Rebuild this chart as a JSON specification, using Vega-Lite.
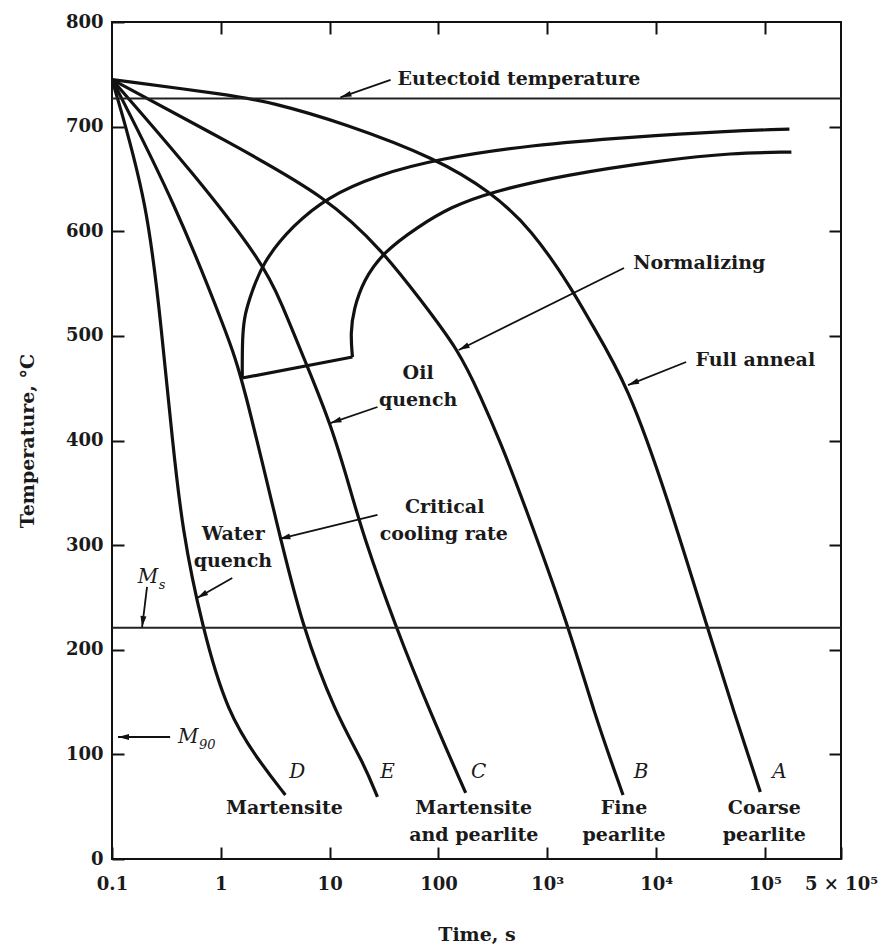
{
  "$schema": "https://vega.github.io/schema/vega-lite/v6.json",
  "width": 729,
  "height": 837,
  "autosize": {"type": "none"},
  "padding": {"left": 112, "top": 22, "right": 52, "bottom": 86},
  "background": "white",
  "config": {
    "font": "DejaVu Serif",
    "view": {"stroke": "#111", "strokeWidth": 2},
    "axis": {"labelFont": "DejaVu Serif", "titleFont": "DejaVu Serif", "labelColor": "#1a1a1a", "titleColor": "#1a1a1a", "tickColor": "#111", "grid": false, "domain": false}
  },
  "datasets": {
    "cooling": [
      {"curve": "A", "i": 0, "t": 0.1, "T": 745},
      {"curve": "A", "i": 1, "t": 1.221, "T": 730.2},
      {"curve": "A", "i": 2, "t": 2.85, "T": 723.5},
      {"curve": "A", "i": 3, "t": 13.4, "T": 703.5},
      {"curve": "A", "i": 4, "t": 98.3, "T": 669.1},
      {"curve": "A", "i": 5, "t": 302.5, "T": 637.5},
      {"curve": "A", "i": 6, "t": 706, "T": 603.1},
      {"curve": "A", "i": 7, "t": 1758, "T": 541.9},
      {"curve": "A", "i": 8, "t": 2416, "T": 515.2},
      {"curve": "A", "i": 9, "t": 5521, "T": 453},
      {"curve": "A", "i": 10, "t": 12890, "T": 343.1},
      {"curve": "A", "i": 11, "t": 29490, "T": 221.7},
      {"curve": "A", "i": 12, "t": 52240, "T": 139.5},
      {"curve": "A", "i": 13, "t": 90700, "T": 64},
      {"curve": "B", "i": 0, "t": 0.1, "T": 745},
      {"curve": "B", "i": 1, "t": 1.221, "T": 684.3},
      {"curve": "B", "i": 2, "t": 9.54, "T": 632.7},
      {"curve": "B", "i": 3, "t": 31.3, "T": 580.2},
      {"curve": "B", "i": 4, "t": 68.5, "T": 534.3},
      {"curve": "B", "i": 5, "t": 153.5, "T": 486.5},
      {"curve": "B", "i": 6, "t": 244.7, "T": 441.6},
      {"curve": "B", "i": 7, "t": 374, "T": 397.6},
      {"curve": "B", "i": 8, "t": 596, "T": 343.1},
      {"curve": "B", "i": 9, "t": 1581, "T": 221.7},
      {"curve": "B", "i": 10, "t": 2687, "T": 139.5},
      {"curve": "B", "i": 11, "t": 4966, "T": 61.2},
      {"curve": "C", "i": 0, "t": 0.1, "T": 745},
      {"curve": "C", "i": 1, "t": 0.58, "T": 653.8},
      {"curve": "C", "i": 2, "t": 2.405, "T": 570.6},
      {"curve": "C", "i": 3, "t": 3.52, "T": 534.3},
      {"curve": "C", "i": 4, "t": 6.25, "T": 470.3},
      {"curve": "C", "i": 5, "t": 10.17, "T": 416.7},
      {"curve": "C", "i": 6, "t": 15.54, "T": 352.7},
      {"curve": "C", "i": 7, "t": 20.05, "T": 311.6},
      {"curve": "C", "i": 8, "t": 40.4, "T": 221.7},
      {"curve": "C", "i": 9, "t": 84.7, "T": 139.5},
      {"curve": "C", "i": 10, "t": 177.9, "T": 63.1},
      {"curve": "E", "i": 0, "t": 0.1, "T": 745},
      {"curve": "E", "i": 1, "t": 0.38, "T": 627},
      {"curve": "E", "i": 2, "t": 1.17, "T": 498.9},
      {"curve": "E", "i": 3, "t": 1.574, "T": 459.7},
      {"curve": "E", "i": 4, "t": 3.377, "T": 314.5},
      {"curve": "E", "i": 5, "t": 5.62, "T": 221.7},
      {"curve": "E", "i": 6, "t": 11.3, "T": 139.5},
      {"curve": "E", "i": 7, "t": 20.5, "T": 91.8},
      {"curve": "E", "i": 8, "t": 27.5, "T": 59.3},
      {"curve": "D", "i": 0, "t": 0.1, "T": 745},
      {"curve": "D", "i": 1, "t": 0.2145, "T": 627},
      {"curve": "D", "i": 2, "t": 0.2886, "T": 498.9},
      {"curve": "D", "i": 3, "t": 0.3569, "T": 403.3},
      {"curve": "D", "i": 4, "t": 0.4413, "T": 314.5},
      {"curve": "D", "i": 5, "t": 0.674, "T": 221.7},
      {"curve": "D", "i": 6, "t": 1.145, "T": 139.5},
      {"curve": "D", "i": 7, "t": 2.306, "T": 91.8},
      {"curve": "D", "i": 8, "t": 3.92, "T": 61.2}
    ],
    "hold": [
      {"curve": "start", "i": 0, "t": 1.574, "T": 459.7},
      {"curve": "start", "i": 1, "t": 1.574, "T": 498.9},
      {"curve": "start", "i": 2, "t": 1.65, "T": 518},
      {"curve": "start", "i": 3, "t": 1.787, "T": 532},
      {"curve": "start", "i": 4, "t": 2.405, "T": 570.6},
      {"curve": "start", "i": 5, "t": 4.64, "T": 606},
      {"curve": "start", "i": 6, "t": 9.54, "T": 632.7},
      {"curve": "start", "i": 7, "t": 27.5, "T": 653.8},
      {"curve": "start", "i": 8, "t": 98.3, "T": 669.1},
      {"curve": "start", "i": 9, "t": 706, "T": 682.4},
      {"curve": "start", "i": 10, "t": 5888, "T": 690.1},
      {"curve": "start", "i": 11, "t": 49090, "T": 695.8},
      {"curve": "start", "i": 12, "t": 167800, "T": 697.7},
      {"curve": "finish", "i": 0, "t": 16.2, "T": 479.8},
      {"curve": "finish", "i": 1, "t": 15.54, "T": 502.7},
      {"curve": "finish", "i": 2, "t": 16.56, "T": 524.7},
      {"curve": "finish", "i": 3, "t": 20.5, "T": 553.4},
      {"curve": "finish", "i": 4, "t": 31.3, "T": 580.2},
      {"curve": "finish", "i": 5, "t": 64.3, "T": 604.1},
      {"curve": "finish", "i": 6, "t": 129.5, "T": 623.2},
      {"curve": "finish", "i": 7, "t": 302.5, "T": 637.5},
      {"curve": "finish", "i": 8, "t": 1422, "T": 653.8},
      {"curve": "finish", "i": 9, "t": 11850, "T": 668.1},
      {"curve": "finish", "i": 10, "t": 49090, "T": 674.8},
      {"curve": "finish", "i": 11, "t": 175000, "T": 675.7},
      {"curve": "stop", "i": 0, "t": 1.574, "T": 459.7},
      {"curve": "stop", "i": 1, "t": 16.2, "T": 479.8}
    ],
    "hlines": [
      {"name": "Eutectoid temperature", "T": 727},
      {"name": "Ms", "T": 221}
    ],
    "arrows": [
      {"a": "eut", "t1": 36.3, "T1": 744.6, "t2": 12.57, "T2": 728},
      {"a": "norm", "t1": 5070, "T1": 564.9, "t2": 153.5, "T2": 486.5},
      {"a": "full", "t1": 18880, "T1": 475, "t2": 5521, "T2": 453},
      {"a": "oil", "t1": 27.5, "T1": 432, "t2": 10.17, "T2": 416.7},
      {"a": "crit", "t1": 27.5, "T1": 328.8, "t2": 3.45, "T2": 305.9},
      {"a": "water", "t1": 1.274, "T1": 268.6, "t2": 0.606, "T2": 249.5},
      {"a": "ms", "t1": 0.21, "T1": 260, "t2": 0.189, "T2": 221.7},
      {"a": "m90", "t1": 0.342, "T1": 116.6, "t2": 0.1135, "T2": 116.6}
    ],
    "labels": [
      {"kind": "note", "text": "Normalizing", "t": 24900, "T": 569.7},
      {"kind": "note", "text": "Full anneal", "t": 81600, "T": 476.9},
      {"kind": "note", "text": "Oil", "t": 65, "T": 464.5},
      {"kind": "note", "text": "quench", "t": 65, "T": 438.7},
      {"kind": "note", "text": "Critical", "t": 114, "T": 336.4},
      {"kind": "note", "text": "cooling rate", "t": 112, "T": 310.6},
      {"kind": "note", "text": "Water", "t": 1.3, "T": 310.6},
      {"kind": "note", "text": "quench", "t": 1.29, "T": 284.8},
      {"kind": "note", "text": "Martensite", "t": 3.84, "T": 48.7},
      {"kind": "note", "text": "Martensite", "t": 211, "T": 48.7},
      {"kind": "note", "text": "and pearlite", "t": 211, "T": 22.9},
      {"kind": "note", "text": "Fine", "t": 5070, "T": 48.7},
      {"kind": "note", "text": "pearlite", "t": 5070, "T": 22.9},
      {"kind": "note", "text": "Coarse", "t": 98700, "T": 48.7},
      {"kind": "note", "text": "pearlite", "t": 98700, "T": 22.9},
      {"kind": "left", "text": "Eutectoid temperature", "t": 42.1, "T": 745.5},
      {"kind": "letter", "text": "D", "t": 5.05, "T": 83.2},
      {"kind": "letter", "text": "E", "t": 34.0, "T": 83.2},
      {"kind": "letter", "text": "C", "t": 234, "T": 83.2},
      {"kind": "letter", "text": "B", "t": 7280, "T": 83.2},
      {"kind": "letter", "text": "A", "t": 135800, "T": 83.2},
      {"kind": "M", "text": "M", "t": 0.2145, "T": 269.5},
      {"kind": "M", "text": "M", "t": 0.501, "T": 116.6},
      {"kind": "sub", "text": "s", "t": 0.288, "T": 261.9},
      {"kind": "sub", "text": "90", "t": 0.75, "T": 109}
    ]
  },
  "resolve": {"axis": {"x": "independent", "y": "independent"}},
  "layer": [
    {
      "data": {"name": "cooling"},
      "mark": {"type": "line", "interpolate": "basis", "strokeWidth": 3.2, "color": "#111", "clip": true},
      "encoding": {
        "x": {"field": "t", "type": "quantitative", "scale": {"type": "log", "domain": [0.1, 500000]},
          "axis": {"orient": "bottom", "values": [0.1, 1, 10, 100, 1000, 10000, 100000, 500000],
            "labelExpr": "datum.value < 0.5 ? '0.1' : datum.value < 5 ? '1' : datum.value < 50 ? '10' : datum.value < 500 ? '100' : datum.value < 5000 ? '10³' : datum.value < 50000 ? '10⁴' : datum.value < 200000 ? '10⁵' : '5 × 10⁵'",
            "tickSize": -12, "tickWidth": 2, "labelPadding": 28, "labelFontSize": 18, "labelFontWeight": "bold",
            "labelFlush": false, "labelOverlap": false, "labelBound": false,
            "title": "Time, s", "titleFontSize": 19, "titleFontWeight": "bold", "titlePadding": 32}},
        "y": {"field": "T", "type": "quantitative", "scale": {"domain": [0, 800]},
          "axis": {"orient": "left", "values": [0, 100, 200, 300, 400, 500, 600, 700, 800],
            "tickSize": -12, "tickWidth": 2, "labelPadding": 21, "labelFontSize": 18, "labelFontWeight": "bold",
            "labelFlush": false, "labelOverlap": false,
            "title": "Temperature, °C", "titleFontSize": 19, "titleFontWeight": "bold", "titlePadding": 28}},
        "detail": {"field": "curve"},
        "order": {"field": "i"}
      }
    },
    {
      "data": {"name": "hold"},
      "mark": {"type": "line", "interpolate": "basis", "strokeWidth": 3.2, "color": "#111", "clip": true},
      "encoding": {
        "x": {"field": "t", "type": "quantitative", "scale": {"type": "log", "domain": [0.1, 500000]}, "axis": null},
        "y": {"field": "T", "type": "quantitative", "scale": {"domain": [0, 800]}, "axis": null},
        "detail": {"field": "curve"},
        "order": {"field": "i"}
      }
    },
    {
      "data": {"name": "hlines"},
      "mark": {"type": "rule", "strokeWidth": 2, "color": "#222"},
      "encoding": {
        "y": {"field": "T", "type": "quantitative", "scale": {"domain": [0, 800]}, "axis": null}
      }
    },
    {
      "data": {"name": "arrows"},
      "mark": {"type": "rule", "strokeWidth": 1.8, "color": "#111"},
      "encoding": {
        "x": {"field": "t1", "type": "quantitative", "scale": {"type": "log", "domain": [0.1, 500000]},
          "axis": {"orient": "top", "values": [1, 10, 100, 1000, 10000, 100000], "labels": false, "tickSize": -12, "tickWidth": 2, "title": null}},
        "y": {"field": "T1", "type": "quantitative", "scale": {"domain": [0, 800]},
          "axis": {"orient": "right", "values": [100, 200, 300, 400, 500, 600, 700], "labels": false, "tickSize": -12, "tickWidth": 2, "title": null}},
        "x2": {"field": "t2"},
        "y2": {"field": "T2"}
      }
    },
    {
      "data": {"name": "arrows"},
      "transform": [{"filter": "datum.a == 'eut'"}],
      "mark": {"type": "point", "shape": "M0,0L-0.6,2.2L0.6,2.2Z", "filled": true, "size": 100, "angle": 251, "color": "#111", "opacity": 1, "strokeWidth": 0},
      "encoding": {
        "x": {"field": "t2", "type": "quantitative", "scale": {"type": "log", "domain": [0.1, 500000]}, "axis": null},
        "y": {"field": "T2", "type": "quantitative", "scale": {"domain": [0, 800]}, "axis": null}
      }
    },
    {
      "data": {"name": "arrows"},
      "transform": [{"filter": "datum.a == 'norm'"}],
      "mark": {"type": "point", "shape": "M0,0L-0.6,2.2L0.6,2.2Z", "filled": true, "size": 100, "angle": 243.6, "color": "#111", "opacity": 1, "strokeWidth": 0},
      "encoding": {
        "x": {"field": "t2", "type": "quantitative", "scale": {"type": "log", "domain": [0.1, 500000]}, "axis": null},
        "y": {"field": "T2", "type": "quantitative", "scale": {"domain": [0, 800]}, "axis": null}
      }
    },
    {
      "data": {"name": "arrows"},
      "transform": [{"filter": "datum.a == 'full'"}],
      "mark": {"type": "point", "shape": "M0,0L-0.6,2.2L0.6,2.2Z", "filled": true, "size": 100, "angle": 248.4, "color": "#111", "opacity": 1, "strokeWidth": 0},
      "encoding": {
        "x": {"field": "t2", "type": "quantitative", "scale": {"type": "log", "domain": [0.1, 500000]}, "axis": null},
        "y": {"field": "T2", "type": "quantitative", "scale": {"domain": [0, 800]}, "axis": null}
      }
    },
    {
      "data": {"name": "arrows"},
      "transform": [{"filter": "datum.a == 'oil'"}],
      "mark": {"type": "point", "shape": "M0,0L-0.6,2.2L0.6,2.2Z", "filled": true, "size": 100, "angle": 251.2, "color": "#111", "opacity": 1, "strokeWidth": 0},
      "encoding": {
        "x": {"field": "t2", "type": "quantitative", "scale": {"type": "log", "domain": [0.1, 500000]}, "axis": null},
        "y": {"field": "T2", "type": "quantitative", "scale": {"domain": [0, 800]}, "axis": null}
      }
    },
    {
      "data": {"name": "arrows"},
      "transform": [{"filter": "datum.a == 'crit'"}],
      "mark": {"type": "point", "shape": "M0,0L-0.6,2.2L0.6,2.2Z", "filled": true, "size": 100, "angle": 256.2, "color": "#111", "opacity": 1, "strokeWidth": 0},
      "encoding": {
        "x": {"field": "t2", "type": "quantitative", "scale": {"type": "log", "domain": [0.1, 500000]}, "axis": null},
        "y": {"field": "T2", "type": "quantitative", "scale": {"domain": [0, 800]}, "axis": null}
      }
    },
    {
      "data": {"name": "arrows"},
      "transform": [{"filter": "datum.a == 'water'"}],
      "mark": {"type": "point", "shape": "M0,0L-0.6,2.2L0.6,2.2Z", "filled": true, "size": 100, "angle": 240.3, "color": "#111", "opacity": 1, "strokeWidth": 0},
      "encoding": {
        "x": {"field": "t2", "type": "quantitative", "scale": {"type": "log", "domain": [0.1, 500000]}, "axis": null},
        "y": {"field": "T2", "type": "quantitative", "scale": {"domain": [0, 800]}, "axis": null}
      }
    },
    {
      "data": {"name": "arrows"},
      "transform": [{"filter": "datum.a == 'ms'"}],
      "mark": {"type": "point", "shape": "M0,0L-0.6,2.2L0.6,2.2Z", "filled": true, "size": 100, "angle": 187.1, "color": "#111", "opacity": 1, "strokeWidth": 0},
      "encoding": {
        "x": {"field": "t2", "type": "quantitative", "scale": {"type": "log", "domain": [0.1, 500000]}, "axis": null},
        "y": {"field": "T2", "type": "quantitative", "scale": {"domain": [0, 800]}, "axis": null}
      }
    },
    {
      "data": {"name": "arrows"},
      "transform": [{"filter": "datum.a == 'm90'"}],
      "mark": {"type": "point", "shape": "M0,0L-0.6,2.2L0.6,2.2Z", "filled": true, "size": 100, "angle": 270, "color": "#111", "opacity": 1, "strokeWidth": 0},
      "encoding": {
        "x": {"field": "t2", "type": "quantitative", "scale": {"type": "log", "domain": [0.1, 500000]}, "axis": null},
        "y": {"field": "T2", "type": "quantitative", "scale": {"domain": [0, 800]}, "axis": null}
      }
    },
    {
      "data": {"name": "labels"},
      "transform": [{"filter": "datum.kind == 'note'"}],
      "mark": {"type": "text", "font": "DejaVu Serif", "fontSize": 19, "fontWeight": "bold", "align": "center", "baseline": "middle", "color": "#1a1a1a"},
      "encoding": {
        "x": {"field": "t", "type": "quantitative", "scale": {"type": "log", "domain": [0.1, 500000]}, "axis": null},
        "y": {"field": "T", "type": "quantitative", "scale": {"domain": [0, 800]}, "axis": null},
        "text": {"field": "text"}
      }
    },
    {
      "data": {"name": "labels"},
      "transform": [{"filter": "datum.kind == 'left'"}],
      "mark": {"type": "text", "font": "DejaVu Serif", "fontSize": 19, "fontWeight": "bold", "align": "left", "baseline": "middle", "color": "#1a1a1a"},
      "encoding": {
        "x": {"field": "t", "type": "quantitative", "scale": {"type": "log", "domain": [0.1, 500000]}, "axis": null},
        "y": {"field": "T", "type": "quantitative", "scale": {"domain": [0, 800]}, "axis": null},
        "text": {"field": "text"}
      }
    },
    {
      "data": {"name": "labels"},
      "transform": [{"filter": "datum.kind == 'letter' || datum.kind == 'M'"}],
      "mark": {"type": "text", "font": "DejaVu Serif", "fontSize": 20, "fontStyle": "italic", "align": "center", "baseline": "middle", "color": "#1a1a1a"},
      "encoding": {
        "x": {"field": "t", "type": "quantitative", "scale": {"type": "log", "domain": [0.1, 500000]}, "axis": null},
        "y": {"field": "T", "type": "quantitative", "scale": {"domain": [0, 800]}, "axis": null},
        "text": {"field": "text"}
      }
    },
    {
      "data": {"name": "labels"},
      "transform": [{"filter": "datum.kind == 'sub'"}],
      "mark": {"type": "text", "font": "DejaVu Serif", "fontSize": 13, "fontStyle": "italic", "align": "center", "baseline": "middle", "color": "#1a1a1a"},
      "encoding": {
        "x": {"field": "t", "type": "quantitative", "scale": {"type": "log", "domain": [0.1, 500000]}, "axis": null},
        "y": {"field": "T", "type": "quantitative", "scale": {"domain": [0, 800]}, "axis": null},
        "text": {"field": "text"}
      }
    }
  ]
}
